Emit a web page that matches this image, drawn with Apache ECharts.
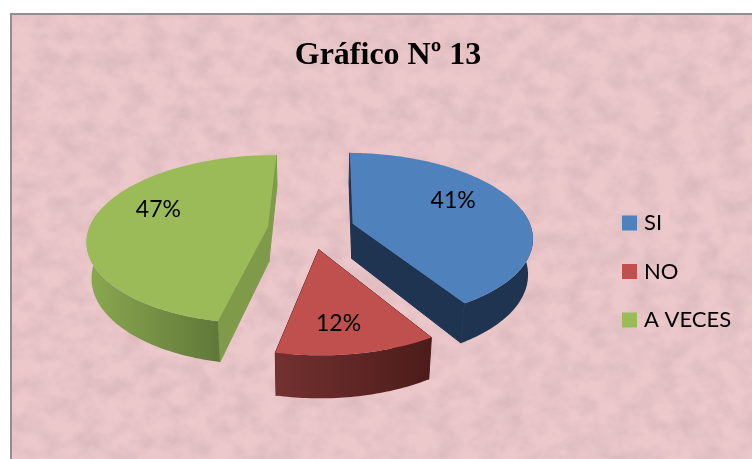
<!DOCTYPE html>
<html>
<head>
<meta charset="utf-8">
<script src="https://cdn.jsdelivr.net/npm/echarts@6/dist/echarts.min.js"></script>
<style>
  html, body { margin: 0; padding: 0; background: #fff; overflow: hidden; }
  #frame { position: absolute; left: 10px; top: 13px; width: 742px; height: 446px; box-sizing: border-box;
    border-left: 2px solid #8f8f8f; border-top: 2px solid #8f8f8f; background: #ecc8cb; overflow: hidden; }
  #frame svg { position: absolute; left: 0; top: 0; }
  #chart { position: absolute; left: 0; top: 0; width: 752px; height: 459px; }
</style>
</head>
<body>
<div id="frame">
  <svg width="742" height="446">
    <filter id="paper" x="0" y="0" width="100%" height="100%">
      <feTurbulence type="fractalNoise" baseFrequency="0.045 0.055" numOctaves="4" seed="11"/>
      <feColorMatrix values="0 0 0 0 0.6  0 0 0 0 0.4  0 0 0 0 0.42  0 0 0 0.9 -0.3"/>
    </filter>
    <rect width="742" height="446" filter="url(#paper)"/>
  </svg>
</div>
<div id="chart"></div>
<script>
const categories = ['SI', 'NO', 'A VECES'];
const values = [41, 12, 47];
const topColors = ['#4F81BD', '#C0504D', '#9BBB59'];
const wallColors = [
  ['#1E3450', '#1E3450'],
  ['#733130', '#4C1C1A'],
  ['#8BA951', '#5F7838']
];
const edgeColors = ['#1E3450', '#5A2422', '#7F9B4A'];
// where each percent label sits: angle from 12 o'clock, fraction of radius
const labelAngles = [64, 173, 289];
const labelRadii = [0.67, 0.74, 0.68];

// perspective pie on a tilted plane
const X0 = 311;
const Y0 = 229;
const RX = 179;
const RY = 83;
const K = 0.15;
const DEPTH = 35;
const BOTTOM_SHRINK = 0.978;
const EXPLODE = 0.243;
const ROTATION = 1;

const total = values.reduce((a, b) => a + b, 0);

function project(u, v, bottom) {
  const w = 1 - K * v;
  let x = (RX * u) / w;
  let y = (RY * v) / w;
  if (bottom) {
    x *= BOTTOM_SHRINK;
    y += DEPTH / w;
  }
  return [X0 + x, Y0 + y];
}

function sliceAngles(index) {
  const before = values.slice(0, index).reduce((a, b) => a + b, 0);
  return [
    (before / total) * 360 + ROTATION,
    ((before + values[index]) / total) * 360 + ROTATION
  ];
}

function renderSlice(index, params, api) {
  const [start, end] = sliceAngles(index);
  const mid = ((start + end) / 2) * Math.PI / 180;
  const du = Math.sin(mid) * EXPLODE;
  const dv = -Math.cos(mid) * EXPLODE;
  const rim = (deg, bottom, r = 1) => {
    const a = deg * Math.PI / 180;
    return project(du + r * Math.sin(a), dv - r * Math.cos(a), bottom);
  };
  const arc = (from, to, bottom) => {
    const pts = [];
    for (let d = from; d < to; d += 1) pts.push(rim(d, bottom));
    pts.push(rim(to, bottom));
    return pts;
  };
  const wall = deg => ({
    type: 'polygon',
    shape: { points: [rim(deg, false, 0), rim(deg, false), rim(deg, true), rim(deg, true, 0)] },
    style: { fill: edgeColors[index], stroke: edgeColors[index], lineWidth: 1 }
  });
  // only the front of the rim shows, so the gradient spans just that part
  const frontFrom = Math.max(start, 80);
  const frontTo = Math.min(end, 280);
  const labelPos = rim(labelAngles[index], false, labelRadii[index]);
  return {
    type: 'group',
    children: [
      wall(start),
      wall(end),
      {
        type: 'polygon',
        shape: { points: arc(frontFrom, frontTo, false).concat(arc(frontFrom, frontTo, true).reverse()) },
        style: {
          fill: new echarts.graphic.LinearGradient(0, 0, 1, 0, [
            { offset: 0, color: wallColors[index][0] },
            { offset: 1, color: wallColors[index][1] }
          ])
        }
      },
      {
        type: 'polygon',
        shape: { points: [rim(start, false, 0)].concat(arc(start, end, false)) },
        style: { fill: topColors[index] }
      },
      {
        type: 'text',
        x: labelPos[0],
        y: labelPos[1],
        style: {
          text: Math.round((api.value(0) / total) * 100) + '%',
          align: 'center',
          verticalAlign: 'middle',
          fontFamily: 'Lato',
          fontSize: 23,
          fill: '#000'
        }
      }
    ]
  };
}

const chart = echarts.init(document.getElementById('chart'), null, { renderer: 'canvas' });
chart.setOption({
  animation: false,
  backgroundColor: 'transparent',
  title: {
    text: 'Gráfico Nº 13',
    left: 383,
    top: 35,
    textAlign: 'center',
    textStyle: { fontFamily: 'Liberation Serif', fontWeight: 'bold', fontSize: 32, color: '#000' }
  },
  legend: {
    orient: 'vertical',
    left: 622,
    top: 212,
    padding: 0,
    itemWidth: 15,
    itemHeight: 15,
    itemGap: 26.5,
    icon: 'rect',
    data: categories,
    textStyle: { fontFamily: 'Lato', fontSize: 22, color: '#000', padding: [0, 0, 0, 2] }
  },
  series: categories.map((name, i) => ({
    type: 'custom',
    name: name,
    coordinateSystem: 'none',
    itemStyle: { color: topColors[i] },
    renderItem: (params, api) => renderSlice(i, params, api),
    data: [[values[i]]]
  }))
});
</script>
</body>
</html>
